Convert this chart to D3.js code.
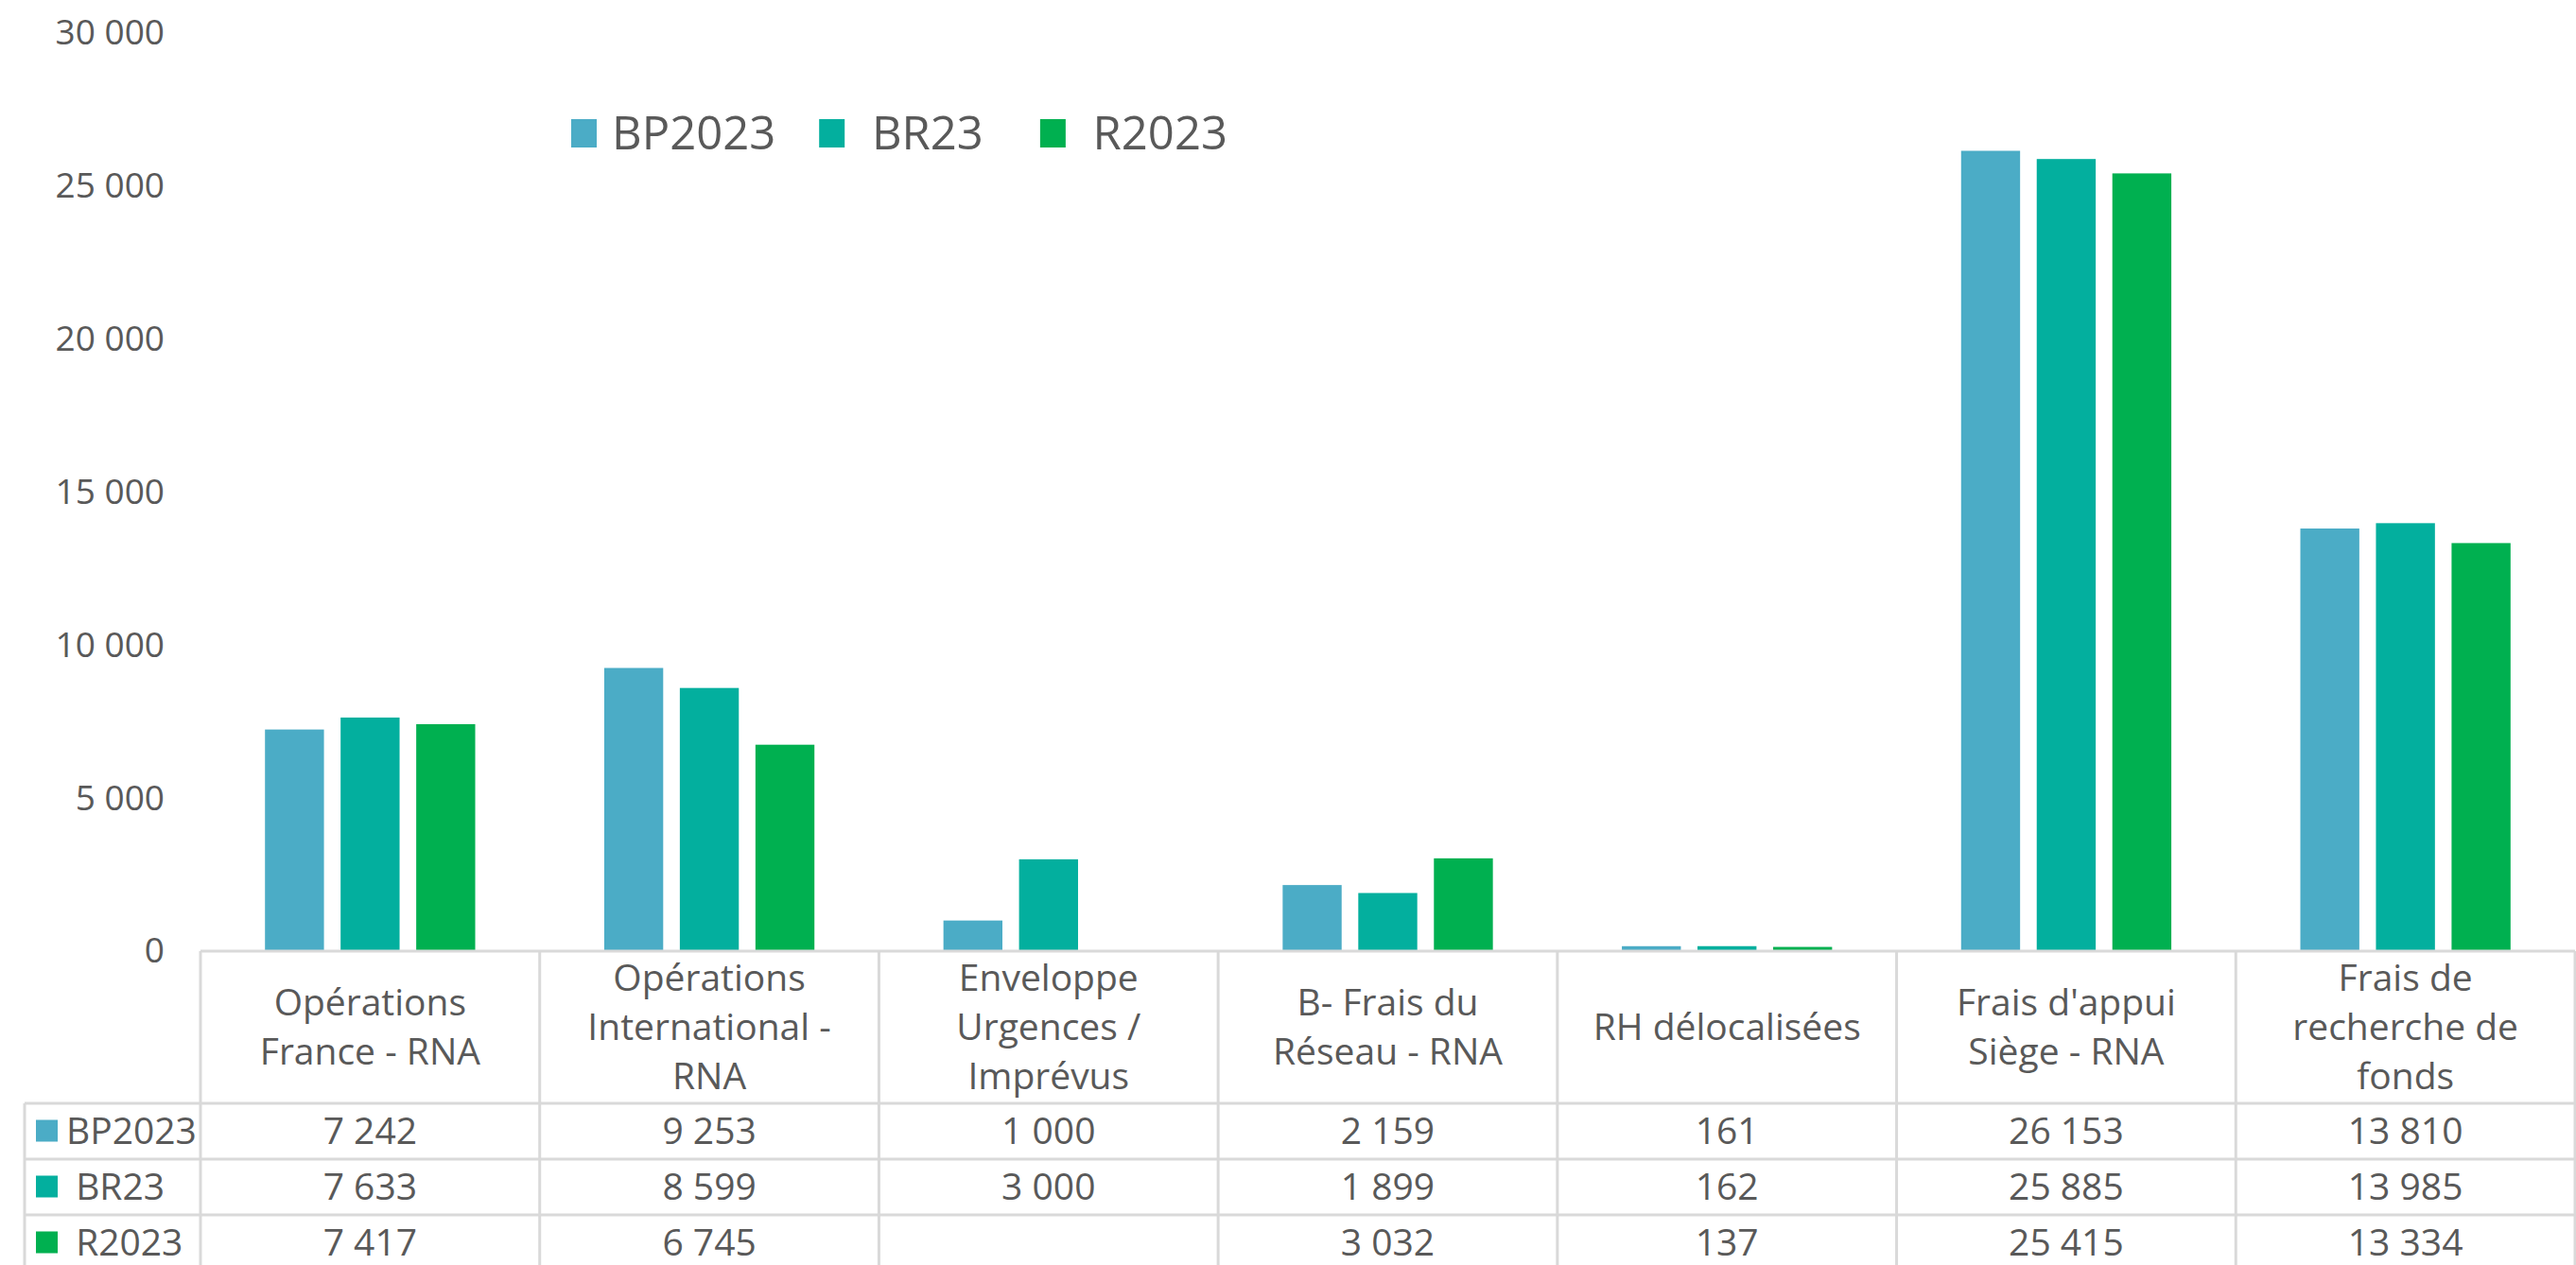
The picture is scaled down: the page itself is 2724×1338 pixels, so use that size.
<!DOCTYPE html>
<html>
<head>
<meta charset="utf-8">
<script src="https://cdn.jsdelivr.net/npm/d3@7/dist/d3.min.js"></script>
<style>
  body { margin: 0; background: #fff; }
  svg text { font-family: "Open Sans", sans-serif; fill: #595959; white-space: pre; }
</style>
</head>
<body>
<div class="svgWrap"></div>
<script>
var categories = [
  "Opérations\nFrance - RNA",
  "Opérations\nInternational -\nRNA",
  "Enveloppe\nUrgences /\nImprévus",
  "B- Frais du\nRéseau - RNA",
  "RH délocalisées",
  "Frais d'appui\nSiège - RNA",
  "Frais de\nrecherche de\nfonds"
];
var seriesNames = ["BP2023", " BR23", " R2023"];
var bp2023 = [7242, 9253, 1000, 2159, 161, 26153, 13810];
var br23 = [7633, 8599, 3000, 1899, 162, 25885, 13985];
var r2023 = [7417, 6745, null, 3032, 137, 25415, 13334];
var yTicks = [0, 5000, 10000, 15000, 20000, 25000, 30000];
var colors = ["#4BACC6", "#03AF9E", "#00B050"];

var seriesValues = [bp2023, br23, r2023];

var W = 2724, H = 1338;
var plotLeft = 212, plotRight = 2723;
var y0 = 1006, yTop = 35;
var headerH = 161, rowH = 59;
var grid = "#d9d9d9";

var fr = d3.formatLocale({decimal: ",", thousands: " ", grouping: [3], currency: ["", " €"]});
var fmt = fr.format(",d");

var svg = d3.select(".svgWrap").append("svg")
  .attr("width", W).attr("height", H);

var x0 = d3.scaleBand().domain(d3.range(categories.length))
  .range([plotLeft, plotRight]).paddingInner(0).paddingOuter(0);
var x1 = d3.scaleBand().domain(d3.range(seriesNames.length))
  .range([0, x0.bandwidth()]).paddingInner(0.22).paddingOuter(0.853);
var y = d3.scaleLinear().domain([0, 30000]).range([y0, yTop]);

// y axis labels only
var yAxis = svg.append("g")
  .attr("transform", "translate(174,0)")
  .call(d3.axisLeft(y).tickValues(yTicks).tickSize(0).tickPadding(0).tickFormat(fmt));
yAxis.select(".domain").remove();
yAxis.selectAll("text")
  .style("font-size", "37px")
  .attr("font-family", null)
  .attr("fill", null);

// bars (empty values skipped)
seriesValues.forEach(function(vals, s) {
  var pts = vals.map(function(v, i) { return {v: v, i: i}; })
    .filter(function(d) { return d.v != null; });
  svg.append("g").selectAll("rect")
    .data(pts)
    .enter()
    .append("rect")
    .attr("x", function(d) { return x0(d.i) + x1(s); })
    .attr("y", function(d) { return y(d.v); })
    .attr("width", x1.bandwidth())
    .attr("height", function(d) { return y0 - y(d.v); })
    .attr("fill", colors[s]);
});

// data table
var tbl = svg.append("g");
var tableBottom = y0 + headerH + rowH * 3;
var labelLeft = 26;
var tFont = "39px";

// horizontal lines
tbl.append("line").attr("x1", plotLeft).attr("x2", plotRight)
  .attr("y1", y0).attr("y2", y0);
for (var r = 0; r < 3; r++) {
  var yy = y0 + headerH + rowH * r;
  tbl.append("line").attr("x1", labelLeft).attr("x2", plotRight)
    .attr("y1", yy).attr("y2", yy);
}
tbl.append("line").attr("x1", labelLeft).attr("x2", plotRight)
  .attr("y1", tableBottom).attr("y2", tableBottom);
// vertical lines
tbl.append("line").attr("x1", labelLeft).attr("x2", labelLeft)
  .attr("y1", y0 + headerH).attr("y2", tableBottom);
d3.range(categories.length + 1).forEach(function(i) {
  var xx = i < categories.length ? x0(i) : plotRight;
  tbl.append("line").attr("x1", xx).attr("x2", xx)
    .attr("y1", y0).attr("y2", tableBottom);
});
tbl.selectAll("line").attr("stroke", grid).attr("stroke-width", 3);

// header labels
var lineH = 52;
categories.forEach(function(c, i) {
  var lines = c.split("\n");
  var cy = y0 + headerH / 2 - (lines.length - 1) * lineH / 2;
  var t = tbl.append("text")
    .attr("x", x0(i) + x0.bandwidth() / 2)
    .attr("text-anchor", "middle")
    .style("font-size", tFont);
  lines.forEach(function(l, k) {
    t.append("tspan")
      .attr("x", x0(i) + x0.bandwidth() / 2)
      .attr("y", cy + k * lineH)
      .attr("dy", "0.35em")
      .text(l);
  });
});

// row labels and values
seriesNames.forEach(function(name, s) {
  var cy = y0 + headerH + rowH * s + rowH / 2;
  tbl.append("rect")
    .attr("x", 38).attr("y", cy - 12)
    .attr("width", 23).attr("height", 23)
    .attr("fill", colors[s]);
  tbl.append("text")
    .attr("x", 70).attr("y", cy).attr("dy", "0.35em")
    .style("font-size", tFont)
    .text(name);
  tbl.append("g").selectAll("text")
    .data(seriesValues[s])
    .enter()
    .append("text")
    .attr("x", function(d, i) { return x0(i) + x0.bandwidth() / 2; })
    .attr("y", cy).attr("dy", "0.35em")
    .attr("text-anchor", "middle")
    .style("font-size", tFont)
    .text(function(d) { return d == null ? "" : fmt(d); });
});

// legend
var legend = svg.append("g").attr("transform", "translate(604,141)");
var lx = 0;
seriesNames.forEach(function(name, s) {
  legend.append("rect")
    .attr("x", lx).attr("y", -15)
    .attr("width", 27).attr("height", 30)
    .attr("fill", colors[s]);
  var t = legend.append("text")
    .attr("x", lx + 43).attr("y", 0).attr("dy", "0.35em")
    .style("font-size", "49px")
    .text(name);
  lx += 43 + t.node().getComputedTextLength() + (s === 0 ? 46 : 60);
});
</script>
</body>
</html>
